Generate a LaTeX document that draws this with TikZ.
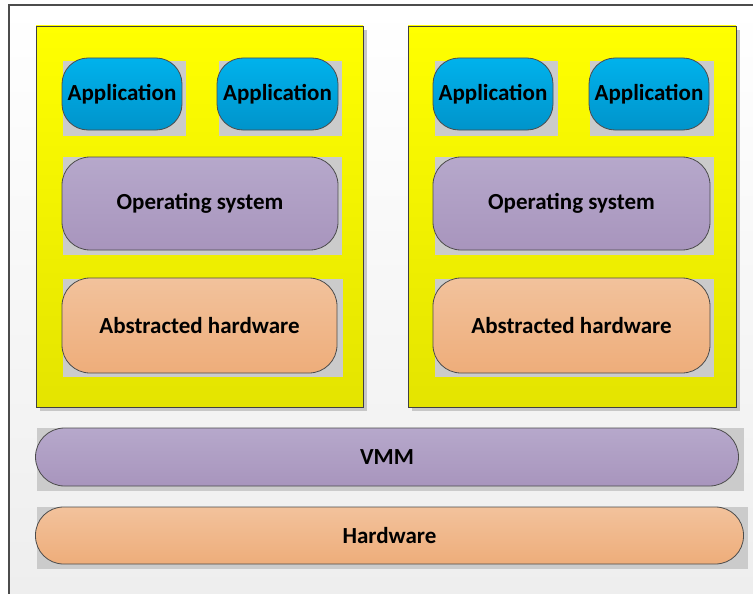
\documentclass[tikz,border=0pt]{standalone}
\usepackage{fontspec}
\setmainfont{Carlito}
\tikzset{
  lbl/.style={font=\fontsize{23}{26}\selectfont\bfseries, text=black, inner sep=0pt},
  layer/.style={lbl, draw=black!70, line width=0.8pt, rounded corners=#1},
  app/.style={layer=26pt, top color=appTop, bottom color=appBot},
  osbox/.style={layer=28pt, top color=osTop, bottom color=osBot},
  hwbox/.style={layer=28pt, top color=hwTop, bottom color=hwBot},
  vmbox/.style={layer=29pt, top color=osTop, bottom color=osBot},
  backing/.style={fill=backGray, draw=none},
  guest/.style={draw=black!75, line width=0.8pt, top color=yelTop, bottom color=yelBot, inner sep=0pt},
}
\definecolor{appTop}{HTML}{00B2EC}
\definecolor{appBot}{HTML}{0094CB}
\definecolor{osTop}{HTML}{B6A8CB}
\definecolor{osBot}{HTML}{A895BD}
\definecolor{hwTop}{HTML}{F2C29C}
\definecolor{hwBot}{HTML}{EEAD7A}
\definecolor{yelTop}{HTML}{FFFF00}
\definecolor{yelBot}{HTML}{E4E400}
\definecolor{backGray}{HTML}{CBCBCB}
\definecolor{frameFill}{HTML}{EEEEEE}
\begin{document}
\begin{tikzpicture}[x=1pt, y=-1pt]
  \useasboundingbox (0,0) rectangle (753,594);
  \fill[white] (0,0) rectangle (753,594);
  % page frame with soft background
  \shade[top color=white, bottom color=frameFill] (9,5) rectangle (753,594);
  \draw[black!70, line width=1.2pt] (9,594) -- (9,5) -- (753,5);

  % guest machine containers with drop shadows
  \fill[black!22] (40,30) rectangle (367,411);
  \fill[black!22] (412,30) rectangle (740,411);
  \node[guest, minimum width=327pt, minimum height=381pt] (vmL) at (199.5,216.5) {};
  \node[guest, minimum width=328pt, minimum height=381pt] (vmR) at (572,216.5) {};

  % backing plates behind each layer
  \fill[backing] (63,61) rectangle (186,136);
  \fill[backing] (219,61) rectangle (342,136);
  \fill[backing] (435,61) rectangle (558,136);
  \fill[backing] (590,61) rectangle (714,136);
  \fill[backing] (63,157) rectangle (342,255);
  \fill[backing] (435,157) rectangle (714,255);
  \fill[backing] (63,279) rectangle (343,377);
  \fill[backing] (435,279) rectangle (714,377);
  \fill[backing] (37,428) rectangle (744,491);
  \fill[backing] (37,507) rectangle (748,569);

  % left guest
  \node[app, minimum width=120pt, minimum height=72pt] (appL1) at (122,94) {Application};
  \node[app, minimum width=121pt, minimum height=72pt] (appL2) at (277.5,94) {Application};
  \node[osbox, minimum width=276pt, minimum height=93pt] (osL) at (200,203.5) {Operating system};
  \node[hwbox, minimum width=275pt, minimum height=95pt] (ahL) at (199.5,325.5) {Abstracted hardware};

  % right guest
  \node[app, minimum width=120pt, minimum height=72pt] (appR1) at (493,94) {Application};
  \node[app, minimum width=120pt, minimum height=72pt] (appR2) at (649,94) {Application};
  \node[osbox, minimum width=277pt, minimum height=93pt] (osR) at (571.5,203.5) {Operating system};
  \node[hwbox, minimum width=277pt, minimum height=95pt] (ahR) at (571.5,325.5) {Abstracted hardware};

  % host layers
  \node[vmbox, minimum width=703pt, minimum height=58pt] (vmm) at (387,457) {VMM};
  \node[hwbox, rounded corners=28pt, minimum width=708pt, minimum height=57pt] (hw) at (389.5,535.5) {Hardware};
\end{tikzpicture}
\end{document}
